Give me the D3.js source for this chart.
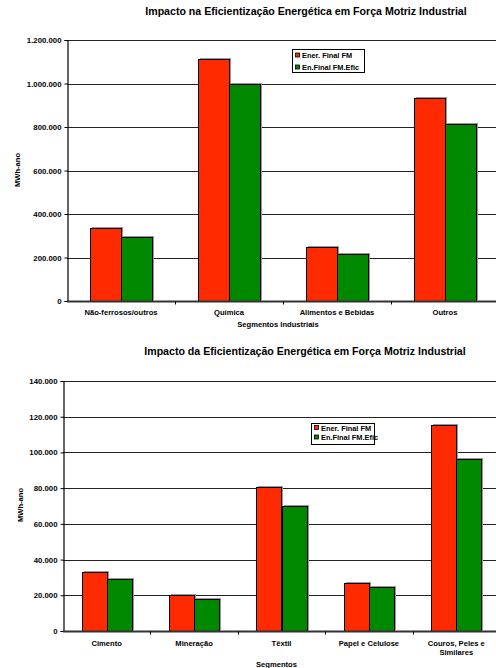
<!DOCTYPE html>
<html>
<head>
	<meta charset="utf-8" />
	<title>Impacto na Eficientização Energética</title>
	<script src="https://d3js.org/d3.v7.min.js"></script>
</head>
<style>
	body {
		margin: 0;
		background: #fff;
		font-family: 'Liberation Sans', Arial, sans-serif;
		font-weight: bold;
	}
	text { fill: #000; }
	.grid line { stroke: #222; stroke-width: 1px; shape-rendering: crispEdges; }
	.bar { stroke: #000; stroke-width: 1px; shape-rendering: crispEdges; }
	.shadow { fill: #999; shape-rendering: crispEdges; }
</style>
<body>
<script>
	// series names shared by both charts
	var seriesNames = ["Ener. Final FM", "En.Final FM.Efic"];
	var seriesColors = ["#ff2a00", "#008800"];

	// chart 1
	var cats1 = ["Não-ferrosos/outros", "Química", "Alimentos e Bebidas", "Outros"];
	var ener1 = [337000, 1114000, 248000, 935000];
	var efic1 = [296000, 1000000, 217000, 812000];
	var ticks1 = [0, 200000, 400000, 600000, 800000, 1000000, 1200000];

	// chart 2
	var cats2 = ["Cimento", "Mineração", "Têxtil", "Papel e Celulose", "Couros, Peles e|Similares"];
	var ener2 = [33300, 20400, 80400, 26800, 115600];
	var efic2 = [29000, 17700, 70000, 24400, 96600];
	var ticks2 = [0, 20000, 40000, 60000, 80000, 100000, 120000, 140000];

	var svg = d3.select("body").append("svg")
		.attr("width", 496)
		.attr("height", 668);

	// number format with dots as thousands separator
	var fmt = function(v) { return d3.format(",")(v).replace(/,/g, "."); };

	function drawChart(opt) {
		var g = svg.append("g");
		var x = d3.scaleBand().domain(opt.cats).range([opt.left, opt.right]);
		var y = d3.scaleLinear().domain([0, opt.max]).range([opt.bottom, opt.top]);
		var barW = x.bandwidth() * opt.barFrac / 2;

		g.append("text")
			.attr("x", opt.titleX).attr("y", opt.titleY)
			.attr("text-anchor", "middle")
			.style("font-size", "10.6px")
			.text(opt.title);

		// gridlines
		g.append("g").attr("class", "grid")
			.selectAll("line").data(opt.ticks.slice(1)).enter().append("line")
			.attr("x1", opt.left).attr("x2", opt.right)
			.attr("y1", function(d) { return Math.round(y(d)) + 0.5; })
			.attr("y2", function(d) { return Math.round(y(d)) + 0.5; });

		// y axis
		var yAxis = d3.axisLeft(y).tickValues(opt.ticks).tickFormat(fmt).tickSize(3).tickPadding(3);
		var ya = g.append("g")
			.attr("transform", "translate(" + (opt.left + 0.5) + ",0)")
			.call(yAxis);
		ya.select(".domain").attr("stroke", "#000").attr("stroke-width", 1.2);
		ya.selectAll("text").style("font-size", "7.8px").style("font-family", "'Liberation Sans', Arial, sans-serif").style("font-weight", "bold");

		// bars
		var series = [opt.ener, opt.efic];
		series.forEach(function(vals, s) {
			var bg = g.append("g");
			bg.selectAll("rect.shadow").data(vals).enter().append("rect")
				.attr("class", "shadow")
				.attr("x", function(d, i) { return Math.round(x(opt.cats[i]) + x.bandwidth() / 2 - barW + s * barW) + 2; })
				.attr("y", function(d) { return Math.round(y(d)) - 1; })
				.attr("width", Math.round(barW))
				.attr("height", function(d) { return opt.bottom - Math.round(y(d)); });
		});
		series.forEach(function(vals, s) {
			g.append("g").selectAll("rect.bar").data(vals).enter().append("rect")
				.attr("class", "bar")
				.attr("fill", seriesColors[s])
				.attr("x", function(d, i) { return Math.round(x(opt.cats[i]) + x.bandwidth() / 2 - barW + s * barW) + 0.5; })
				.attr("y", function(d) { return Math.round(y(d)) + 0.5; })
				.attr("width", Math.round(barW))
				.attr("height", function(d) { return opt.bottom - Math.round(y(d)); });
		});

		// x axis
		var xa = g.append("g")
			.attr("transform", "translate(0," + (opt.bottom + 0.5) + ")");
		xa.append("line").attr("x1", opt.left).attr("x2", opt.right)
			.attr("stroke", "#333").attr("stroke-width", 2);
		xa.selectAll("line.tk").data(opt.cats.slice(1)).enter().append("line")
			.attr("x1", function(d) { return Math.round(x(d)) + 0.5; })
			.attr("x2", function(d) { return Math.round(x(d)) + 0.5; })
			.attr("y1", 0).attr("y2", 3)
			.attr("stroke", "#000");
		xa.selectAll("text.cat").data(opt.cats).enter().append("text")
			.attr("text-anchor", "middle")
			.attr("x", function(d) { return x(d) + x.bandwidth() / 2; })
			.attr("y", opt.catY - opt.bottom)
			.style("font-size", "7.6px")
			.each(function(d) {
				var parts = d.split("|");
				var t = d3.select(this);
				parts.forEach(function(p, k) {
					t.append("tspan").attr("x", x(d) + x.bandwidth() / 2).attr("dy", k ? 9 : 0).text(p);
				});
			});

		g.append("text")
			.attr("x", (opt.left + opt.right) / 2 - 5).attr("y", opt.xLabelY)
			.attr("text-anchor", "middle")
			.style("font-size", "7.6px")
			.text(opt.xLabel);

		g.append("text")
			.attr("transform", "translate(" + opt.yLabelX + "," + opt.yLabelY + ") rotate(-90)")
			.attr("text-anchor", "middle")
			.style("font-size", "7.6px")
			.text("MWh-ano");

		// legend
		var lg = g.append("g").attr("transform", "translate(" + opt.legX + "," + opt.legY + ")");
		lg.append("rect")
			.attr("x", 0.5).attr("y", 0.5)
			.attr("width", opt.legW).attr("height", opt.legH)
			.attr("fill", "#fff").attr("stroke", "#000").attr("stroke-width", 1);
		seriesNames.forEach(function(n, i) {
			var cy = opt.legRow0 + i * opt.legStep;
			lg.append("rect")
				.attr("x", 3.5).attr("y", cy - 2.5)
				.attr("width", 4).attr("height", 4)
				.attr("fill", seriesColors[i]).attr("stroke", "#000").attr("stroke-width", 0.8);
			lg.append("text")
				.attr("x", 10).attr("y", cy + 2.6)
				.style("font-size", "7.4px")
				.text(n);
		});
	}

	drawChart({
		title: "Impacto na Eficientização Energética em Força Motriz Industrial",
		titleX: 306, titleY: 15,
		cats: cats1, ener: ener1, efic: efic1, ticks: ticks1, max: 1200000,
		left: 67, right: 499, top: 40, bottom: 301,
		barFrac: 0.574,
		catY: 314, xLabel: "Segmentos Industriais", xLabelY: 327,
		yLabelX: 20, yLabelY: 170,
		legX: 292, legY: 49, legW: 72, legH: 23, legRow0: 6.5, legStep: 12
	});

	drawChart({
		title: "Impacto da Eficientização Energética em Força Motriz Industrial",
		titleX: 305, titleY: 355,
		cats: cats2, ener: ener2, efic: efic2, ticks: ticks2, max: 140000,
		left: 63, right: 500, top: 381, bottom: 631,
		barFrac: 0.573,
		catY: 645, xLabel: "Segmentos", xLabelY: 667,
		yLabelX: 23, yLabelY: 505,
		legX: 311, legY: 423, legW: 63, legH: 21, legRow0: 5, legStep: 9.5
	});
</script>
</body>
</html>
